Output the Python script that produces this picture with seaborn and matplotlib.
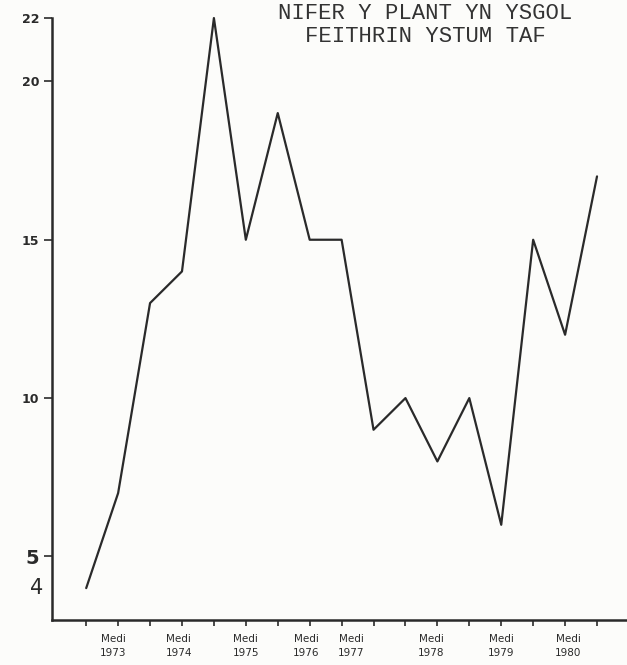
import matplotlib
matplotlib.use("Agg")
import matplotlib.pyplot as plt
import seaborn as sns
import pandas as pd

# === Dados (leitura do gráfico)
tymor = list(range(17))
plant = [4, 7, 13, 14, 22, 15, 19, 15, 15, 9, 10, 8, 10, 6, 15, 12, 17]

label_pos = [0.85, 2.9, 5.0, 6.9, 8.3, 10.8, 13.0, 15.1]
label_txt = ['Medi\n1973', 'Medi\n1974', 'Medi\n1975', 'Medi\n1976',
             'Medi\n1977', 'Medi\n1978', 'Medi\n1979', 'Medi\n1980']

y_ticks = [5, 10, 15, 20, 22]

df = pd.DataFrame({'tymor': tymor, 'plant': plant})

sns.set_style('ticks')
plt.rcParams['font.family'] = ['DejaVu Sans']

fig = plt.figure(figsize=(6.27, 6.65), dpi=100, facecolor='#fcfcfa')
ax = fig.add_axes([0.083, 0.068, 0.915, 0.932])
ax.set_facecolor('#fcfcfa')

sns.lineplot(data=df, x='tymor', y='plant', ax=ax, color='#2a2a2a', linewidth=1.6)

ax.set_xlim(-1.07, 16.9)
ax.set_ylim(3, 22.57)
sns.despine(ax=ax)
ax.spines['left'].set_bounds(3, 22)
for s in ['left', 'bottom']:
    ax.spines[s].set_linewidth(1.8)
    ax.spines[s].set_color('#2a2a2a')

ax.set_xticks(tymor)
ax.set_xticklabels([])
ax.tick_params(axis='x', length=4, width=1.2, color='#2a2a2a')

ax.set_yticks(y_ticks)
ax.set_yticklabels([str(v) for v in y_ticks])
ax.tick_params(axis='y', length=6, width=1.2, color='#2a2a2a', pad=3)
for lbl in ax.get_yticklabels():
    if lbl.get_text() == '5':
        lbl.set_fontsize(14)
    else:
        lbl.set_fontsize(9)
    lbl.set_fontweight('bold')
    lbl.set_color('#2a2a2a')
ax.text(-1.33, 4, '4', fontsize=15, color='#2a2a2a', ha='right', va='center')

for p, t in zip(label_pos, label_txt):
    ax.text(p, 2.55, t, fontsize=7.5, color='#2a2a2a', ha='center', va='top',
            linespacing=1.55)

ax.set_xlabel('')
ax.set_ylabel('')

# titulo dactilografado no topo
fig.text(0.678, 1 - 25 / 665, 'NIFER Y PLANT YN YSGOL\nFEITHRIN YSTUM TAF',
         family='Liberation Mono', fontsize=16, ha='center', va='center',
         linespacing=1.15, color='#333333')

fig.savefig('out.png', dpi=100, facecolor=fig.get_facecolor())
